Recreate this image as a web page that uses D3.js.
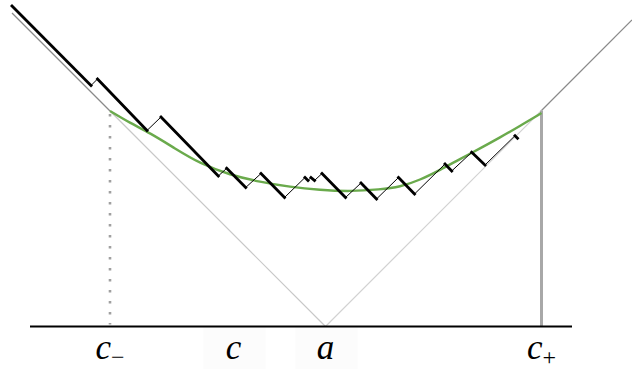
<!DOCTYPE html>
<html>
<head>
<meta charset="utf-8">
<style>
  body { margin: 0; background: #fff; }
  .lbl { font-family: "Liberation Serif", "DejaVu Serif", serif; font-style: italic; fill: #000; }
</style>
</head>
<body>
<svg id="chart" width="632" height="369"></svg>
<script src="https://cdnjs.cloudflare.com/ajax/libs/d3/7.8.5/d3.min.js"></script>
<script>
// ===== data (units: a = 0, V is y = |x|) =====
var cMinus = -21.55, cPlus = 21.6, cMid = -9.2, aPos = 0;
var tickNames = ["c", "a"];
var tickPos = [cMid, aPos];

// random walk vertices
var walkX = [-31.35, -23.45, -22.8, -17.85, -16.45, -10.72, -9.88, -7.98, -6.45, -4.1, -2.05, -1.75, -1.45, -1.1, -0.35,
             2.0, 3.55, 5.1, 7.3, 8.9, 11.95, 12.62, 14.62, 15.95, 18.95, 19.2];
var walkY = [32.05, 24.1, 24.75, 19.6, 20.95, 15.05, 15.82, 13.9, 15.3, 12.9, 14.9, 14.6, 14.9, 14.6, 15.3,
             12.9, 14.35, 12.75, 14.9, 13.25, 16.25, 15.55, 17.42, 16.15, 19.08, 18.82];

// smooth green curve between c- and c+
var curveX = [-21.55, -19.55, -17.55, -15.05, -12.55, -9.55, -6.55, -3.55, -0.55, 2.45, 5.45, 7.45, 9.45, 11.45, 13.45, 15.45, 17.45, 19.45, 21.6];
var curveY = [21.55, 20.35, 19.35, 17.8, 16.3, 15.15, 14.45, 13.95, 13.65, 13.5, 13.7, 13.95, 14.65, 15.65, 16.75, 17.8, 18.9, 20.05, 21.35];

var vLeft = -31.35, vRight = 30.65;
var axisFrom = -29.55, axisTo = 24.65;

// ===== scales =====
var svg = d3.select("#chart");
var x = d3.scaleLinear().domain([-32.55, 30.65]).range([0, 632]);
var y = d3.scaleLinear().domain([0, 32.65]).range([326.5, 0]);

// faint label boxes
svg.selectAll("rect.bg").data(tickPos).enter().append("rect")
    .attr("x", d => x(d) - 30).attr("y", y(0)).attr("width", 62).attr("height", 369 - y(0))
    .attr("fill", "#fcfcfc");

// V lines |x - a|
var vSegs = [
    {x1: vLeft, x2: cMinus, c: "#8a8a8a"},
    {x1: cMinus, x2: aPos, c: "#c8c8c8"},
    {x1: aPos, x2: cPlus, c: "#d2d2d2"},
    {x1: cPlus, x2: vRight, c: "#8a8a8a"}
];
svg.selectAll("line.v").data(vSegs).enter().append("line")
    .attr("x1", d => x(d.x1)).attr("y1", d => y(Math.abs(d.x1)))
    .attr("x2", d => x(d.x2)).attr("y2", d => y(Math.abs(d.x2)))
    .attr("stroke", d => d.c).attr("stroke-width", 1.2);

// verticals at c- (dotted) and c+ (solid)
svg.append("line")
    .attr("x1", x(cMinus)).attr("x2", x(cMinus))
    .attr("y1", y(Math.abs(cMinus)) + 3).attr("y2", y(0) - 2)
    .attr("stroke", "#a0a0a0").attr("stroke-width", 2.6)
    .attr("stroke-dasharray", "2.6,8.4");
svg.append("line")
    .attr("x1", x(cPlus)).attr("x2", x(cPlus))
    .attr("y1", y(Math.abs(cPlus))).attr("y2", y(0))
    .attr("stroke", "#a8a8a8").attr("stroke-width", 3);

// axis
svg.append("line")
    .attr("x1", x(axisFrom)).attr("x2", x(axisTo))
    .attr("y1", y(0)).attr("y2", y(0))
    .attr("stroke", "#000").attr("stroke-width", 2.2);

// green curve
var gLine = d3.line().x(d => x(d[0])).y(d => y(d[1])).curve(d3.curveBasis);
svg.append("path")
    .attr("d", gLine(d3.zip(curveX, curveY)))
    .attr("fill", "none").attr("stroke", "#6aaa4c").attr("stroke-width", 2.4);

// walk: thin up-steps, thick down-steps
var steps = d3.range(walkX.length - 1).map(i => ({
    x1: walkX[i], y1: walkY[i], x2: walkX[i + 1], y2: walkY[i + 1], down: walkY[i + 1] < walkY[i]
}));
svg.selectAll("line.walk").data(steps).enter().append("line")
    .attr("x1", d => x(d.x1)).attr("y1", d => y(d.y1))
    .attr("x2", d => x(d.x2)).attr("y2", d => y(d.y2))
    .attr("stroke", "#000")
    .attr("stroke-width", d => d.down ? 2.8 : 1)
    .attr("stroke-linecap", d => d.down ? "square" : "butt");

// labels
function label(pos, main, sub) {
    var t = svg.append("text").attr("class", "lbl")
        .attr("x", x(pos)).attr("y", 359).attr("text-anchor", "middle")
        .style("font-size", "35px");
    t.append("tspan").text(main);
    if (sub) t.append("tspan").attr("dy", 6).style("font-size", "24px").style("font-style", "normal").text(sub);
}
label(cMinus, "c", "\u2212");
tickNames.forEach((n, i) => label(tickPos[i], n));
label(cPlus, "c", "+");
</script>
</body>
</html>
